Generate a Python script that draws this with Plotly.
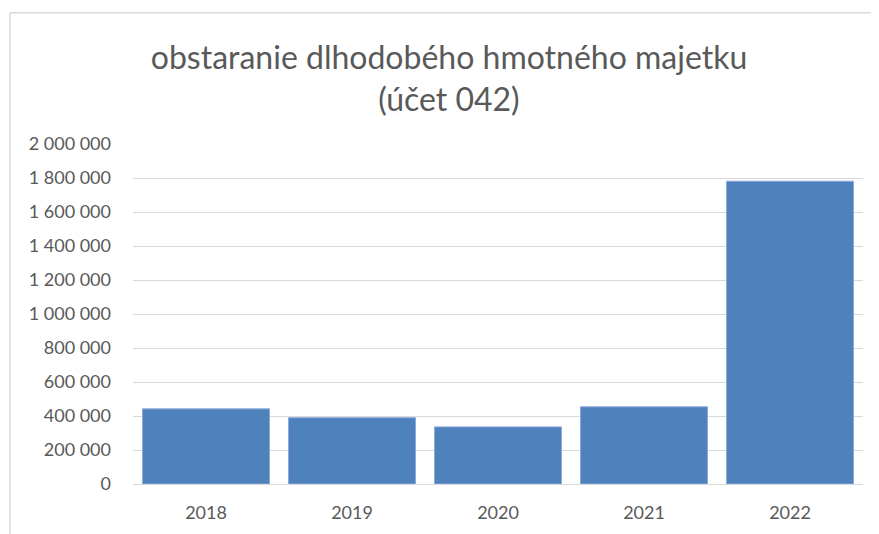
import plotly.graph_objects as go

years = ["2018", "2019", "2020", "2021", "2022"]
values = [442000, 390000, 336000, 454000, 1781000]
title_lines = ["obstaranie dlhodobého hmotného majetku", "(účet 042)"]

W, H = 879, 534
OFF = 8  # page body margin
L = 133 - OFF
T = 143.5 - OFF
B = H - (484 - OFF)
R = W - (863 - OFF)
PW, PH = W - L - R, H - T - B

fig = go.Figure(go.Bar(
    x=years, y=values,
    marker=dict(color="#4f81bd", line=dict(color="#8eaadb", width=1)),
))

fx = lambda px: (px - OFF - L) / PW
fy = lambda py: 1 - (py - OFF - T) / PH

fig.update_layout(
    width=W, height=H,
    margin=dict(l=L, r=R, t=T, b=B),
    paper_bgcolor="white", plot_bgcolor="white",
    separators=", ",
    bargap=0.13,
    showlegend=False,
    font=dict(family="Lato, Open Sans, sans-serif", color="#595959"),
    title=dict(text="<br>".join(title_lines), x=(449 - OFF) / W, xanchor="center",
               y=1 - 61 / H, yanchor="middle",
               font=dict(size=32, color="#595959", family="Lato, sans-serif")),
    xaxis=dict(showgrid=False, showline=False, ticks="",
               tickfont=dict(size=18, color="#595959"), ticklabelstandoff=16),
    yaxis=dict(range=[0, 2000000], dtick=200000, tickformat=",d",
               showgrid=True, gridcolor="#d9d9d9", gridwidth=1,
               zeroline=True, zerolinecolor="#d9d9d9", zerolinewidth=1,
               showline=False, ticks="",
               tickfont=dict(size=18, color="#595959"), ticklabelstandoff=21),
    shapes=[
        dict(type="line", xref="paper", yref="paper",
             x0=fx(10), x1=fx(900), y0=fy(12), y1=fy(12),
             line=dict(color="#d9d9d9", width=1.5)),
        dict(type="line", xref="paper", yref="paper",
             x0=fx(10), x1=fx(10), y0=fy(12), y1=fy(560),
             line=dict(color="#d9d9d9", width=1.5)),
    ],
)

fig.write_html("out.html")
